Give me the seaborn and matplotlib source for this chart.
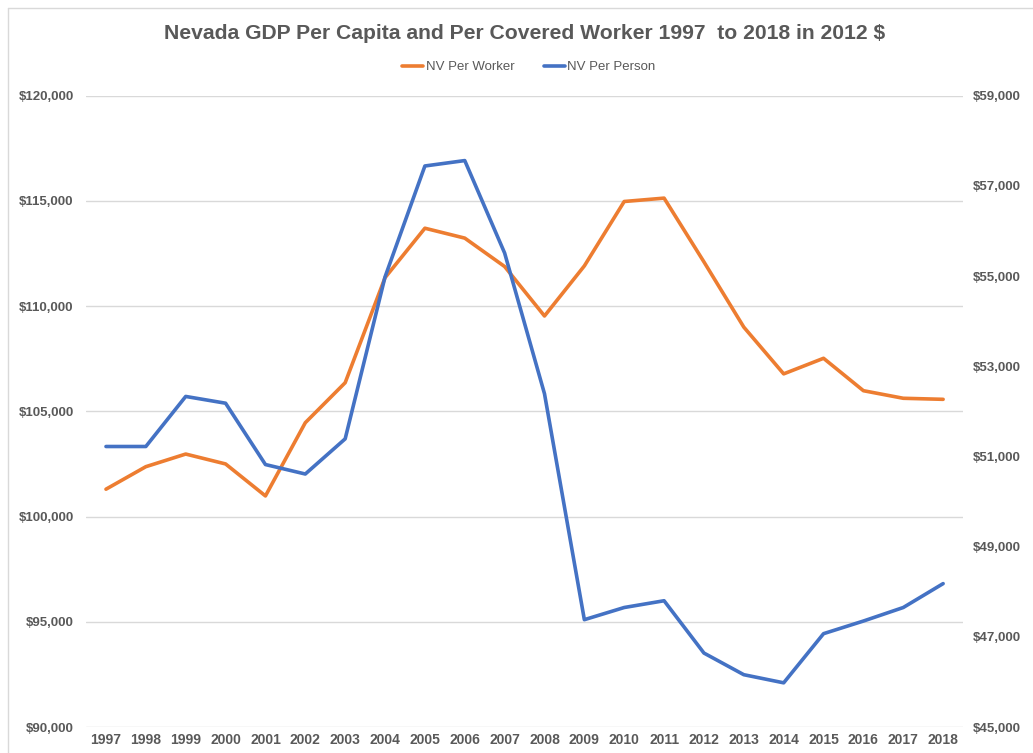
import matplotlib
matplotlib.use("Agg")
import matplotlib.pyplot as plt
import seaborn as sns
import pandas as pd
from matplotlib.ticker import FuncFormatter
from matplotlib.lines import Line2D

years = list(range(1997, 2019))
per_worker = [101300, 102370, 102970, 102500, 100980, 104460, 106360, 111350,
              113700, 113230, 111880, 109530, 111910, 114970, 115130, 112100,
              109000, 106780, 107520, 105980, 105620, 105570]
per_person = [51220, 51220, 52330, 52180, 50820, 50610, 51390, 54980,
              57440, 57560, 55510, 52390, 47380, 47650, 47800, 46640,
              46160, 45980, 47070, 47350, 47650, 48180]

df = pd.DataFrame({"Year": years, "NV Per Worker": per_worker, "NV Per Person": per_person})

sns.set_style("white")
plt.rcParams["font.family"] = ["Liberation Sans", "DejaVu Sans"]

orange = "#ED7D31"
blue = "#4472C4"
grey = "#595959"

fig = plt.figure(figsize=(10.33, 7.53), dpi=100)
ax = fig.add_axes([0.0833, 0.0345, 0.849, 0.8385])
ax2 = ax.twinx()

sns.lineplot(data=df, x="Year", y="NV Per Worker", ax=ax, color=orange, linewidth=2.6)
sns.lineplot(data=df, x="Year", y="NV Per Person", ax=ax2, color=blue, linewidth=2.6)

ax.set_xlim(1996.5, 2018.5)
ax.set_ylim(90000, 120000)
ax2.set_ylim(45000, 59000)
ax.set_yticks(range(90000, 120001, 5000))
ax2.set_yticks(range(45000, 59001, 2000))
ax.set_xticks(years)

money = FuncFormatter(lambda v, p: "${:,.0f}".format(v))
ax.yaxis.set_major_formatter(money)
ax2.yaxis.set_major_formatter(money)

ax.yaxis.grid(True, color="#D9D9D9", linewidth=1)
ax.set_axisbelow(True)
for a in (ax, ax2):
    for s in a.spines.values():
        s.set_visible(False)
    a.set_xlabel("")
    a.set_ylabel("")
    a.tick_params(length=0, labelsize=9.5, labelcolor=grey)
    for lab in a.get_yticklabels() + a.get_xticklabels():
        lab.set_fontweight("bold")
ax.tick_params(axis="y", pad=9)
ax2.tick_params(axis="y", pad=7)
ax.tick_params(axis="x", pad=4, labelsize=10)

fig.text(0.508, 0.956, "Nevada GDP Per Capita and Per Covered Worker 1997  to 2018 in 2012 $",
         ha="center", va="center", fontsize=15.2, fontweight="bold", color=grey)

handles = [Line2D([0], [0], color=orange, lw=2.6), Line2D([0], [0], color=blue, lw=2.6)]
fig.legend(handles, ["NV Per Worker", "NV Per Person"], loc="center", bbox_to_anchor=(0.512, 0.911),
           ncol=2, frameon=False, fontsize=9.5, labelcolor=grey, handlelength=1.6,
           handletextpad=0.2, columnspacing=2.2)

# faint chart border
fig.add_artist(Line2D([0.008, 0.008], [0, 0.989], color="#D9D9D9", lw=1))
fig.add_artist(Line2D([0.008, 1], [0.989, 0.989], color="#D9D9D9", lw=1))

fig.savefig("out.png", dpi=100)
